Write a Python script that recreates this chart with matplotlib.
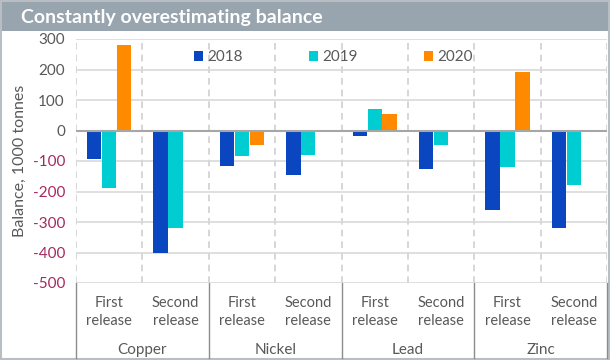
import numpy as np
import matplotlib
matplotlib.use("Agg")
import matplotlib.pyplot as plt
from matplotlib.patches import Rectangle

metals = ["Copper", "Nickel", "Lead", "Zinc"]
releases = ["First\nrelease", "Second\nrelease"]
years = ["2018", "2019", "2020"]
# one value per (metal, release), None = not shown
v2018 = [-92, -400, -115, -145, -18, -125, -262, -320]
v2019 = [-190, -320, -82, -80, 70, -47, -120, -178]
v2020 = [280, None, -47, None, 53, None, 193, None]
yticks = [300, 200, 100, 0, -100, -200, -300, -400, -500]

colors = ["#0a46c0", "#00cdd2", "#ff8a00"]
grey_txt = "#595959"
neg_txt = "#a8285e"

plt.rcParams["font.family"] = ["Lato", "DejaVu Sans"]

W, H = 610, 360
fig = plt.figure(figsize=(W / 100, H / 100), dpi=100)

def px(x0, y0, x1, y1):
    return [x0 / W, 1 - y1 / H, (x1 - x0) / W, (y1 - y0) / H]

# title bar and outer frame
bg = fig.add_axes([0, 0, 1, 1])
bg.set_xlim(0, W)
bg.set_ylim(H, 0)
bg.axis("off")
bg.add_patch(Rectangle((0, 0), W, 31, color="#98a4ae", lw=0))
bg.add_patch(Rectangle((0.5, 0.5), W - 1.5, H - 1.5, fill=False, ec="#b8bec4", lw=1.5))
bg.text(21, 17, "Constantly overestimating balance", color="white", fontsize=14,
        fontweight="bold", va="center", ha="left")

x_left, x_right, y_top, y_bot = 76, 607, 39, 283
ax = fig.add_axes(px(x_left, y_top, x_right, y_bot))
n = len(v2018)
x = np.arange(n)
w = 0.225
for k, (vals, c, lab) in enumerate(zip([v2018, v2019, v2020], colors, years)):
    xs = [xi + (k - 1) * w for xi, v in zip(x, vals) if v is not None]
    ys = [v for v in vals if v is not None]
    ax.bar(xs, ys, width=w * 0.96, color=c, label=lab, zorder=3)

ax.set_xlim(-0.5, n - 0.5)
ax.set_ylim(-500, 300)
ax.set_yticks(yticks)
ax.set_yticklabels([str(t) for t in yticks])
for t, lbl in zip(yticks, ax.get_yticklabels()):
    lbl.set_color(neg_txt if t < 0 else grey_txt)
ax.tick_params(axis="y", length=0, labelsize=11, pad=8)
ax.set_xticks([])
for s in ax.spines.values():
    s.set_visible(False)
ax.grid(axis="y", color="#d9d9d9", lw=1.2, zorder=0)
ax.axhline(0, color="#a6a6a6", lw=1.5, zorder=4)
for xb in np.arange(-0.5, n, 1.0):
    ax.axvline(xb, color="#d0d0d0", lw=1.2, ls=(0, (4, 3)), zorder=1)
ax.set_ylabel("Balance, 1000 tonnes", color=grey_txt, fontsize=11.5, labelpad=4)

leg = ax.legend(loc="upper center", bbox_to_anchor=(0.485, 1.01), ncol=3, frameon=False,
                fontsize=11, handlelength=0.6, handleheight=0.6, handletextpad=0.3,
                columnspacing=4.3)
for t in leg.get_texts():
    t.set_color(grey_txt)

# two-level category axis below the plot
grp_w = (x_right - x_left) / n
for i in range(n):
    cx = x_left + (i + 0.5) * grp_w
    bg.text(cx, 312, releases[i % 2], ha="center", va="center", fontsize=10.5,
            color=grey_txt, linespacing=1.35)
for j, m in enumerate(metals):
    cx = x_left + (2 * j + 1) * grp_w
    bg.text(cx, 350, m, ha="center", va="center", fontsize=11, color=grey_txt)
for j in range(len(metals) + 1):
    xb = x_left + 2 * j * grp_w
    bg.plot([xb, xb], [y_bot, 358], color="#8c8c8c", lw=1)

fig.savefig("out.png", dpi=100)
